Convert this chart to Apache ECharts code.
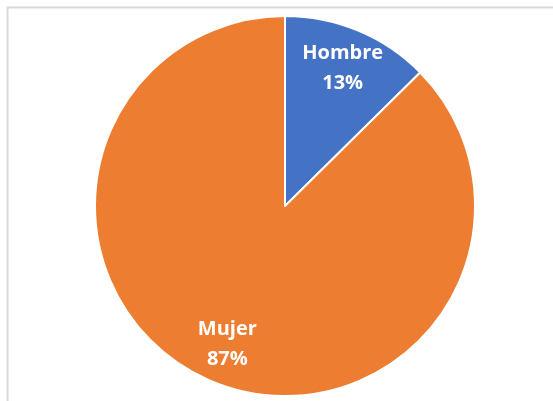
<!DOCTYPE html>
<html>
<head>
<meta charset="utf-8">
<script src="https://cdn.jsdelivr.net/npm/echarts@6/dist/echarts.min.js"></script>
<style>
  html, body { margin: 0; padding: 0; background: #fff; }
  #chart { width: 553px; height: 401px; }
</style>
</head>
<body>
<div id="chart"></div>
<script>
// datos del grafico
var categories = ['Hombre', 'Mujer'];
var values = [12.6, 87.4];
var colors = ['#4472C4', '#ED7D31'];

var total = values[0] + values[1];
var pieData = categories.map(function (name, i) {
  return { name: name, value: values[i], itemStyle: { color: colors[i] } };
});

var chart = echarts.init(document.getElementById('chart'));
var option = {
  animation: false,
  graphic: [
    {
      type: 'rect',
      shape: { x: 7.5, y: 7.5, width: 700, height: 500 },
      style: { fill: 'none', stroke: '#d9d9d9', lineWidth: 2 },
      silent: true
    }
  ],
  series: [
    {
      type: 'pie',
      center: [285, 206],
      radius: [0, 190],
      startAngle: 90,
      itemStyle: { borderColor: '#fff', borderWidth: 2 },
      label: { show: false },
      labelLine: { show: false },
      data: pieData
    },
    {
      // solo etiquetas, a ~0.77 del radio
      type: 'pie',
      center: [285, 206],
      radius: [103, 190],
      startAngle: 90,
      silent: true,
      itemStyle: { color: 'rgba(0,0,0,0)' },
      label: {
        show: true,
        position: 'inside',
        color: '#fff',
        fontFamily: 'Open Sans',
        fontWeight: 'bold',
        fontSize: 20,
        lineHeight: 30,
        formatter: function (p) {
          return p.name + '\n' + Math.round(p.value / total * 100) + '%';
        }
      },
      labelLine: { show: false },
      data: pieData.map(function (d) { return { name: d.name, value: d.value }; })
    }
  ]
};
chart.setOption(option);
</script>
</body>
</html>
